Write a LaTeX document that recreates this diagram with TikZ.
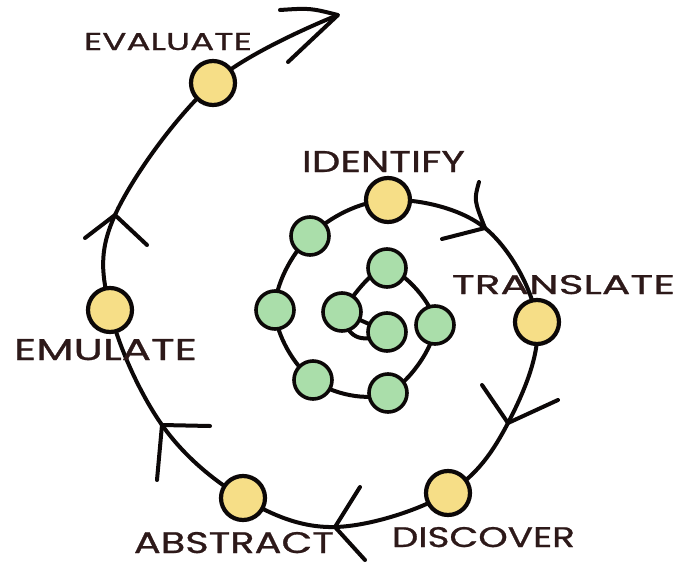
\documentclass[tikz,border=0pt]{standalone}
\usepackage{fontspec}
\setmainfont{Poppins}
\newfontfamily\spiralfont{Poppins}[FakeBold=0.8]
\usetikzlibrary{backgrounds}
\definecolor{nodeyellow}{RGB}{246,222,135}
\definecolor{nodegreen}{RGB}{170,222,170}
\definecolor{inkline}{RGB}{12,8,8}
\definecolor{inktext}{RGB}{45,25,25}
\newcommand{\spirallabel}[3]{\resizebox{#1pt}{#2pt}{\spiralfont #3}}
\begin{document}
\begin{tikzpicture}[x=1pt,y=-1pt,line width=3.8pt,line cap=round,line join=round,
  ynode/.style={circle,draw=inkline,fill=nodeyellow,minimum size=44pt,inner sep=0pt,line width=4.2pt},
  gnode/.style={circle,draw=inkline,fill=nodegreen,minimum size=38pt,inner sep=0pt,line width=3.6pt},
  lbl/.style={anchor=base west,inner sep=0pt,text=inktext},
  stroke/.style={draw=inkline,line width=4pt}]
\useasboundingbox (0,0) rectangle (677,562);
% nodes
\node[ynode] (ev) at (213,83) {};
\node[ynode] (id) at (388,200) {};
\node[ynode] (tr) at (537,322) {};
\node[ynode] (di) at (448,493) {};
\node[ynode] (ab) at (243,498) {};
\node[ynode] (em) at (110,310) {};
\node[gnode] (g1) at (310,236) {};
\node[gnode] (g2) at (275,310) {};
\node[gnode] (g3) at (313,380) {};
\node[gnode] (g4) at (388,393) {};
\node[gnode] (g5) at (435,325) {};
\node[gnode] (g6) at (387,268) {};
\node[gnode] (g7) at (342,312) {};
\node[gnode] (g8) at (387,332) {};
% arrow tips on the spiral
\coordinate (a1) at (485,228);
\coordinate (a2) at (508,423);
\coordinate (a3) at (335,527);
\coordinate (a4) at (162,425);
\coordinate (a5) at (115,215);
\coordinate (aend) at (338,15);
\coordinate (a1l) at (479,182); \coordinate (a1r) at (442,239);
\coordinate (a2l) at (482,385); \coordinate (a2r) at (558,400);
\coordinate (a3l) at (360,487); \coordinate (a3r) at (365,560);
\coordinate (a4l) at (210,426); \coordinate (a4r) at (157,480);
\coordinate (a5l) at (85,238);  \coordinate (a5r) at (147,245);
\coordinate (ael) at (280,10);  \coordinate (aer) at (288,62);
\begin{scope}[on background layer]
\draw[stroke] plot[smooth,tension=0.6] coordinates {(g7.center) (g6.center) (g5.center) (g4.center) (g3.center) (g2.center) (g1.center) (id.center) (a1) (tr.center) (a2) (di.center) (a3) (ab.center) (a4) (em.center) (a5) (ev.center) (aend)};
\draw[stroke] (g8.center) -- (g7.center);
\draw[stroke] (g7.center) .. controls (346,336) and (360,346) .. (g8.center);
\end{scope}
% arrowheads
\draw[stroke] (a1l) .. controls (474,200) .. (a1) -- (a1r);
\draw[stroke] (a2l) -- (a2) -- (a2r);
\draw[stroke] (a3l) -- (a3) -- (a3r);
\draw[stroke] (a4l) -- (a4) -- (a4r);
\draw[stroke] (a5l) -- (a5) -- (a5r);
\draw[stroke] (ael) .. controls (310,8) .. (aend) -- (aer);
% labels
\node[lbl] (tev) at (82,50) {\spirallabel{168}{17}{EVALUATE}};
\node[lbl] (tid) at (300,172) {\spirallabel{163}{21}{IDENTIFY}};
\node[lbl] (ttr) at (450,294) {\spirallabel{223}{19}{TRANSLATE}};
\node[lbl] (tdi) at (390,547) {\spirallabel{183}{20}{DISCOVER}};
\node[lbl] (tab) at (132,553) {\spirallabel{200}{21}{ABSTRACT}};
\node[lbl] (tem) at (12,360) {\spirallabel{183}{21}{EMULATE}};
\end{tikzpicture}
\end{document}
